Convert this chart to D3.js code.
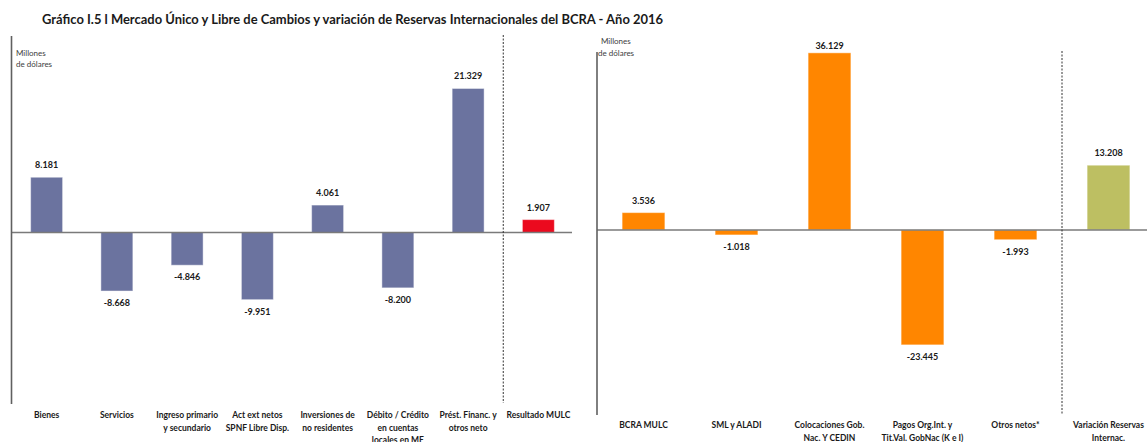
<!DOCTYPE html>
<html>
<head>
<meta charset="utf-8">
<script src="https://cdn.jsdelivr.net/npm/d3@7"></script>
<style>
  html, body { margin: 0; padding: 0; background: #ffffff; }
  svg { display: block; font-family: Lato, "Open Sans", sans-serif; }
</style>
</head>
<body>
<svg id="chart" width="1147" height="442"></svg>
<script>
// ---- data ----
const title = "Gráfico I.5 l Mercado Único y Libre de Cambios y variación de Reservas Internacionales del BCRA - Año 2016";
const unitLines = ["Millones", "de dólares"];

const leftCategories = [
  "Bienes",
  "Servicios",
  "Ingreso primario\ny secundario",
  "Act ext netos\nSPNF Libre Disp.",
  "Inversiones de\nno residentes",
  "Débito / Crédito\nen cuentas\nlocales en ME",
  "Prést. Financ. y\notros neto",
  "Resultado MULC"
];
const leftValues = [8181, -8668, -4846, -9951, 4061, -8200, 21329, 1907];

const rightCategories = [
  "BCRA MULC",
  "SML y ALADI",
  "Colocaciones Gob.\nNac. Y CEDIN",
  "Pagos Org.Int. y\nTit.Val. GobNac (K e I)",
  "Otros netos*",
  "Variación Reservas\nInternac."
];
const rightValues = [3536, -1018, 36129, -23445, -1993, 13208];

// ---- styles ----
const blue = "#6B739F", red = "#EB0A1E", orange = "#FF8600", olive = "#BDBF62";
const fmt = d3.formatLocale({decimal: ",", thousands: ".", grouping: [3], currency: ["$", ""], minus: "-"}).format(",d");

const svg = d3.select("#chart");

svg.append("text")
  .attr("x", 42).attr("y", 24)
  .attr("font-size", 12.5).attr("font-weight", "bold").attr("fill", "#1a1a1a")
  .attr("textLength", 621).attr("lengthAdjust", "spacingAndGlyphs")
  .text(title);

function panel(cfg) {
  const {cats, vals, xRange, yDomain, yRange, colors, pad, axisTop, axisBottom, zeroEnd, unitPos, dashTop, dashBottom, labelY} = cfg;
  const g = svg.append("g");
  const x = d3.scaleBand().domain(cats).range(xRange).paddingInner(pad).paddingOuter(pad / 2);
  const y = d3.scaleLinear().domain(yDomain).range(yRange);
  const y0 = y(0);

  // bars
  g.selectAll("rect.bar").data(vals).join("rect")
    .attr("class", "bar")
    .attr("x", (d, i) => x(cats[i]))
    .attr("width", x.bandwidth())
    .attr("y", d => Math.min(y(d), y0))
    .attr("height", d => Math.abs(y(d) - y0))
    .attr("fill", (d, i) => colors(i))
    .attr("stroke", "rgba(255,255,255,0.45)")
    .attr("stroke-width", 1);

  // zero line
  g.append("line")
    .attr("x1", xRange[0]).attr("x2", zeroEnd)
    .attr("y1", y0).attr("y2", y0)
    .attr("stroke", "#7a7a7a").attr("stroke-width", 1.5);

  // vertical axis line
  g.append("line")
    .attr("x1", xRange[0]).attr("x2", xRange[0])
    .attr("y1", axisTop).attr("y2", axisBottom)
    .attr("stroke", "#606060").attr("stroke-width", 1.6);

  // dashed separator before last category
  const sepX = x(cats[cats.length - 1]) - x.step() * pad / 2;
  g.append("line")
    .attr("x1", sepX).attr("x2", sepX)
    .attr("y1", dashTop).attr("y2", dashBottom)
    .attr("stroke", "#333").attr("stroke-width", 1)
    .attr("stroke-dasharray", "2,1.5");

  // value labels
  g.selectAll("text.val").data(vals).join("text")
    .attr("class", "val")
    .attr("x", (d, i) => x(cats[i]) + x.bandwidth() / 2)
    .attr("y", d => d >= 0 ? Math.max(y(d) - 9, 49) : y(d) + 15)
    .attr("text-anchor", "middle")
    .attr("font-size", 9).attr("font-weight", "bold").attr("fill", "#1a1a1a")
    .text(d => fmt(d));

  // category labels
  cats.forEach((c, i) => {
    const t = g.append("text")
      .attr("x", x(c) + x.bandwidth() / 2)
      .attr("y", labelY)
      .attr("text-anchor", "middle")
      .attr("font-size", 8.5).attr("font-weight", "bold").attr("fill", "#1a1a1a");
    c.split("\n").forEach((line, k) => {
      t.append("tspan").attr("x", x(c) + x.bandwidth() / 2).attr("dy", k === 0 ? 0 : 12.5).text(line);
    });
  });

  // unit label
  unitLines.forEach((l, k) => {
    g.append("text")
      .attr("x", unitPos[k][0]).attr("y", unitPos[k][1])
      .attr("font-size", 8).attr("fill", "#404040")
      .text(l);
  });
}

panel({
  cats: leftCategories, vals: leftValues,
  xRange: [11.5, 573.5], yDomain: [-25400, 29100], yRange: [404, 36],
  colors: i => i === leftValues.length - 1 ? red : blue,
  pad: 0.545, axisTop: 36, axisBottom: 404, zeroEnd: 572,
  unitPos: [[16, 56], [16, 67]], dashTop: 35, dashBottom: 403, labelY: 418
});

panel({
  cats: rightCategories, vals: rightValues,
  xRange: [597, 1155], yDomain: [-37750, 36300], yRange: [415, 52],
  colors: i => i === rightValues.length - 1 ? olive : orange,
  pad: 0.54, axisTop: 52, axisBottom: 415, zeroEnd: 1147,
  unitPos: [[601, 44], [598, 56]], dashTop: 51, dashBottom: 415, labelY: 428
});
</script>
</body>
</html>
